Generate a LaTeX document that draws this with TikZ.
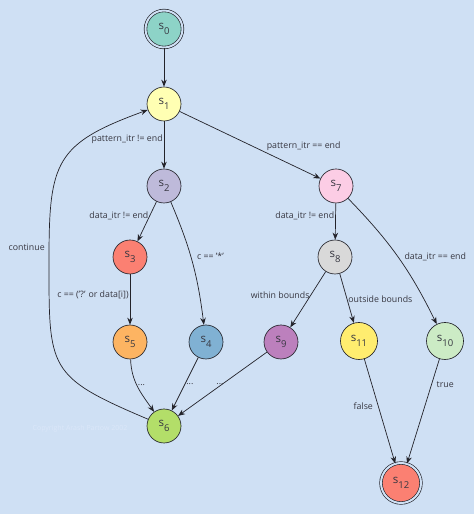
\documentclass[tikz,border=0pt]{standalone}
\usepackage{fontspec}
\setmainfont{Open Sans}
\usetikzlibrary{arrows.meta}
\definecolor{bg}{RGB}{207,224,244}
\definecolor{wm}{RGB}{219,231,249}
\definecolor{cA}{HTML}{8DD3C7}
\definecolor{cB}{HTML}{FFFFB3}
\definecolor{cC}{HTML}{BEBADA}
\definecolor{cD}{HTML}{FB8072}
\definecolor{cE}{HTML}{80B1D3}
\definecolor{cF}{HTML}{FDB462}
\definecolor{cG}{HTML}{B3DE69}
\definecolor{cH}{HTML}{FCCDE5}
\definecolor{cI}{HTML}{D9D9D9}
\definecolor{cJ}{HTML}{BC80BD}
\definecolor{cK}{HTML}{CCEBC5}
\definecolor{cL}{HTML}{FFED6F}
\definecolor{edgec}{RGB}{35,35,42}
\definecolor{txtc}{RGB}{55,55,65}
\newcommand\stlabel[1]{s\raisebox{-4.5pt}{\fontsize{9.5}{10}\selectfont #1}}
\begin{document}
\begin{tikzpicture}[x=1pt,y=1pt,
  state/.style={circle,draw=edgec,line width=0.65pt,minimum size=34pt,inner sep=0pt,
    font=\fontsize{11.5}{12}\selectfont,text=txtc},
  wide/.style={minimum size=37pt},
  accept/.style={double=bg,double distance=2pt,minimum size=37pt},
  trans/.style={-{Stealth[length=7pt,width=5.5pt]},draw=edgec,line width=0.7pt},
  lbl/.style={font=\fontsize{8.8}{10}\selectfont,text=txtc,inner sep=1pt}]
\fill[bg] (0,0) rectangle (474,514);
\useasboundingbox (0,0) rectangle (474,514);
\node[font=\fontsize{7}{8}\selectfont,text=wm] (wmk) at (80,85) {Copyright Arash Partow 2002};
\node[state,accept,fill=cA] (s0) at (164,485) {\stlabel{0}};
\node[state,fill=cB] (s1) at (164,410) {\stlabel{1}};
\node[state,fill=cC] (s2) at (164,328) {\stlabel{2}};
\node[state,fill=cH] (s7) at (336,328) {\stlabel{7}};
\node[state,fill=cD] (s3) at (130,257) {\stlabel{3}};
\node[state,fill=cI] (s8) at (335,257) {\stlabel{8}};
\node[state,fill=cF] (s5) at (130,172) {\stlabel{5}};
\node[state,fill=cE] (s4) at (206,172) {\stlabel{4}};
\node[state,fill=cJ] (s9) at (281,172) {\stlabel{9}};
\node[state,wide,fill=cL] (s11) at (359,173) {\stlabel{11}};
\node[state,wide,fill=cK] (s10) at (445,173) {\stlabel{10}};
\node[state,fill=cG] (s6) at (164,88) {\stlabel{6}};
\node[state,accept,minimum size=40pt,fill=cD] (s12) at (401,31) {\stlabel{12}};
\coordinate (cm) at (49,254);
\draw[trans] (s0) -- (s1);
\draw[trans] (s1) -- node[lbl,pos=0.38,left]{pattern\_itr != end} (s2);
\draw[trans] (s1) -- node[lbl,pos=0.61,anchor=south west]{pattern\_itr == end} (s7);
\draw[trans] (s2) -- node[lbl,pos=0.36,left]{data\_itr != end} (s3);
\draw[trans] (s2) to[bend left=8] node[lbl,pos=0.45,anchor=west,xshift=5pt]{c == '*'} (s4);
\draw[trans] (s3) -- node[lbl,pos=0.41,left]{c == ('?' or data[i])} (s5);
\draw[trans] (s7) -- node[lbl,pos=0.35,left]{data\_itr != end} (s8);
\draw[trans] (s7) to[bend left=9] node[lbl,pos=0.5,anchor=west,xshift=5pt]{data\_itr == end} (s10);
\draw[trans] (s8) -- node[lbl,pos=0.42,left]{within bounds} (s9);
\draw[trans] (s8) -- node[lbl,pos=0.52,right]{outside bounds} (s11);
\draw[trans] (s5) to[out=-88,in=125] node[lbl,pos=0.45,right]{...} (s6);
\draw[trans] (s4) -- node[lbl,pos=0.5,right]{...} (s6);
\draw[trans] (s9) -- node[lbl,pos=0.54,anchor=south,xshift=1pt,yshift=1pt]{...} (s6);
\draw[trans] (s11) -- node[lbl,pos=0.45,left=4pt]{false} (s12);
\draw[trans] (s10) -- node[lbl,pos=0.25,right=4pt]{true} (s12);
\draw[trans] (s6) to[out=157,in=-90,looseness=1.5] (cm)
  to[out=90,in=200,looseness=1.4] node[lbl,pos=0.045,left=3pt]{continue} (s1);
\end{tikzpicture}
\end{document}
